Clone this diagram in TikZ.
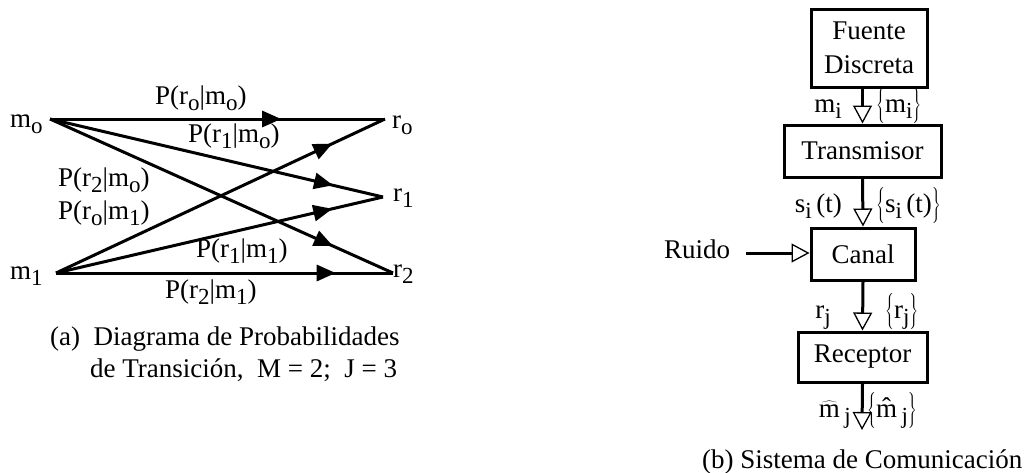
\documentclass[tikz,border=0pt]{standalone}
\usepackage{fontspec}
\setmainfont{Liberation Serif}
\usetikzlibrary{arrows.meta,decorations.markings}
\tikzset{
  lbl/.style={inner sep=0pt, anchor=base west},
  lble/.style={inner sep=0pt, anchor=base east},
  trans/.style={line width=3pt, postaction={decorate},
    decoration={markings, mark=at position #1 with {\arrow{Triangle[length=19pt,width=16pt]}}}},
  blk/.style={draw, line width=3pt, inner sep=0pt, align=center},
  flow/.style={line width=3pt, -{Triangle[open,length=18pt,width=19pt,line width=1.3pt,fill=white]}},
}
\newcommand{\sbs}[1]{\raisebox{-6pt}{\fontsize{23}{23}\selectfont #1}}
\newcommand{\bset}[1]{$\left\{\rule[-11pt]{0pt}{36pt}\mbox{#1}\right\}$}
\begin{document}
\begin{tikzpicture}[x=1pt,y=-1pt,font=\fontsize{27}{34}\selectfont]
\useasboundingbox (0,0) rectangle (1033,472);
% ---------- (a) transition diagram ----------
\coordinate (m0) at (50,119);
\coordinate (m1) at (56,273);
\coordinate (r0) at (385,119);
\coordinate (r1) at (383,197);
\coordinate (r2) at (393,273);
\node[lbl] (lm0) at (10,127) {m\sbs{o}};
\node[lbl] (lm1) at (10,279) {m\sbs{1}};
\node[lbl] (lr0) at (392,128) {r\sbs{o}};
\node[lbl] (lr1) at (393,201) {r\sbs{1}};
\node[lbl] (lr2) at (393,277) {r\sbs{2}};
\draw[trans=0.69] (m0) -- (r0);
\draw[trans=0.85] (m0) -- (r1);
\draw[trans=0.825] (m0) -- (r2);
\draw[trans=0.84] (m1) -- (r0);
\draw[trans=0.845] (m1) -- (r1);
\draw[trans=0.83] (m1) -- (r2);
\node[lbl] (p00) at (155,104) {P(r\sbs{o}|m\sbs{o})};
\node[lbl] (p10) at (188,142) {P(r\sbs{1}|m\sbs{o})};
\node[lbl] (p20) at (58,186) {P(r\sbs{2}|m\sbs{o})};
\node[lbl] (p01) at (58,219) {P(r\sbs{o}|m\sbs{1})};
\node[lbl] (p11) at (196,257) {P(r\sbs{1}|m\sbs{1})};
\node[lbl] (p21) at (165,298) {P(r\sbs{2}|m\sbs{1})};
\node[lbl] (capa1) at (50,345) {(a)\ \ Diagrama de Probabilidades};
\node[lbl] (capa2) at (90,377) {de Transición,\ \ M = 2;\ \ J = 3};
% ---------- (b) communication system ----------
\node[blk, minimum width=116pt, minimum height=78pt] (src) at (869,48) {Fuente\\Discreta};
\node[blk, minimum width=157pt, minimum height=52pt] (tx) at (862.5,151) {Transmisor};
\node[blk, minimum width=104pt, minimum height=52pt] (ch) at (863,254) {Canal};
\node[blk, minimum width=129pt, minimum height=50pt] (rx) at (862.5,357) {Receptor};
\coordinate (out) at (862,430);
\node[lbl] (noise) at (664,258) {Ruido};
\draw[flow] (src.south -| tx.north) -- (tx.north);
\draw[flow] (tx.south) -- (ch.north);
\draw[flow] (ch.south) -- (rx.north);
\draw[flow] (rx.south) -- (out);
\coordinate (nz) at (746,253);
\draw[flow] (nz) -- (ch.west |- nz);
\node[lble] (lmi) at (842,112) {m\sbs{i}};
\node[lbl] (smi) at (876,112) {\bset{m\sbs{i}}};
\node[lble] (lsi) at (842,212) {s\sbs{i}\,(t)};
\node[lbl] (ssi) at (876,212) {\bset{s\sbs{i}\,(t)}};
\node[lble] (lrj) at (831,318) {r\sbs{j}};
\node[lbl] (srj) at (885,318) {\bset{r\sbs{j}}};
\node[lble] (lmh) at (851,417) {$\widehat{\mbox{m}}$\,\sbs{j}};
\node[lbl] (smh) at (867,417) {\bset{\^{m}\,\sbs{j}}};
\node[lbl] (capb) at (702,468) {(b) Sistema de Comunicación};
\end{tikzpicture}
\end{document}
